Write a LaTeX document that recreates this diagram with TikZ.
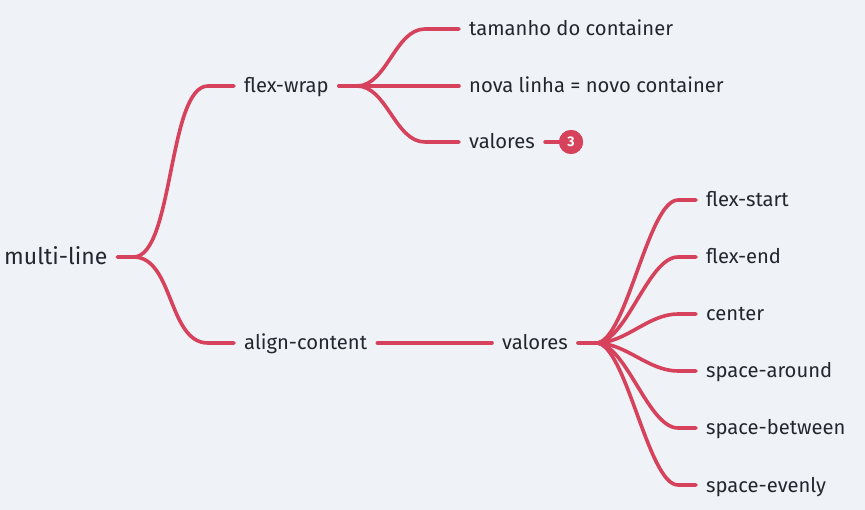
\documentclass[tikz,border=0pt]{standalone}
\usepackage{fontspec}
\setmainfont{Fira Sans}
\usetikzlibrary{calc}
\definecolor{bg}{HTML}{EFF2F6}
\definecolor{ln}{HTML}{D6425C}
\definecolor{tx}{HTML}{22262E}
\begin{document}
\begin{tikzpicture}[x=1pt,y=-1pt,
  lbl/.style={font=\fontsize{20.2}{24}\selectfont, text=tx, inner xsep=10pt, inner ysep=0pt, text height=15pt, text depth=1pt, anchor=west},
  root/.style={lbl, font=\fontsize{23}{27}\selectfont, text height=17pt, text depth=1pt},
  badge/.style={circle, fill=ln, minimum size=24pt, inner sep=0pt, text=white},
  con/.style={draw=ln, line width=3.6pt, line cap=round}]
\fill[bg] (0,0) rectangle (865,510);
\useasboundingbox (0,0) rectangle (865,510);
% nodes
\node[root] (ml) at (-6,257) {multi-line};
\node[lbl] (fw) at (234,86) {flex-wrap};
\node[lbl] (ac) at (234,343) {align-content};
\node[lbl] (t1) at (459,29) {tamanho do container};
\node[lbl] (t2) at (459,86) {nova linha = novo container};
\node[lbl] (t3) at (459,142) {valores};
\node[badge] (b3) at (571,142) {\fontsize{14}{16}\selectfont\bfseries 3};
\node[lbl] (v) at (492,343) {valores};
\foreach \n/\y/\t in {a/200/flex-start, b/257/flex-end, c/314/center, d/371/space-around, e/428/space-between, f/485/space-evenly}
  \node[lbl] (l\n) at (696,\y) {\t};
% connectors
\foreach \c in {fw,ac}
  \draw[con] (ml.east) -- ++(16,0) .. controls +(40,0) and +(-40,0) .. ([xshift=-26]\c.west) -- (\c.west);
\foreach \c in {t1,t2,t3}
  \draw[con] (fw.east) -- ++(18,0) .. controls +(30,0) and +(-30,0) .. ([xshift=-34]\c.west) -- (\c.west);
\draw[con] (t3.east) -- (b3);
\draw[con] (ac.east) -- (v.west);
\foreach \c in {la,lb,lc,ld,le,lf}
  \draw[con] (v.east) -- ++(18,0) .. controls +(30,0) and +(-30,0) .. ([xshift=-18]\c.west) -- (\c.west);
\node[badge] at (b3) {\fontsize{14}{16}\selectfont\bfseries 3};
\end{tikzpicture}
\end{document}
